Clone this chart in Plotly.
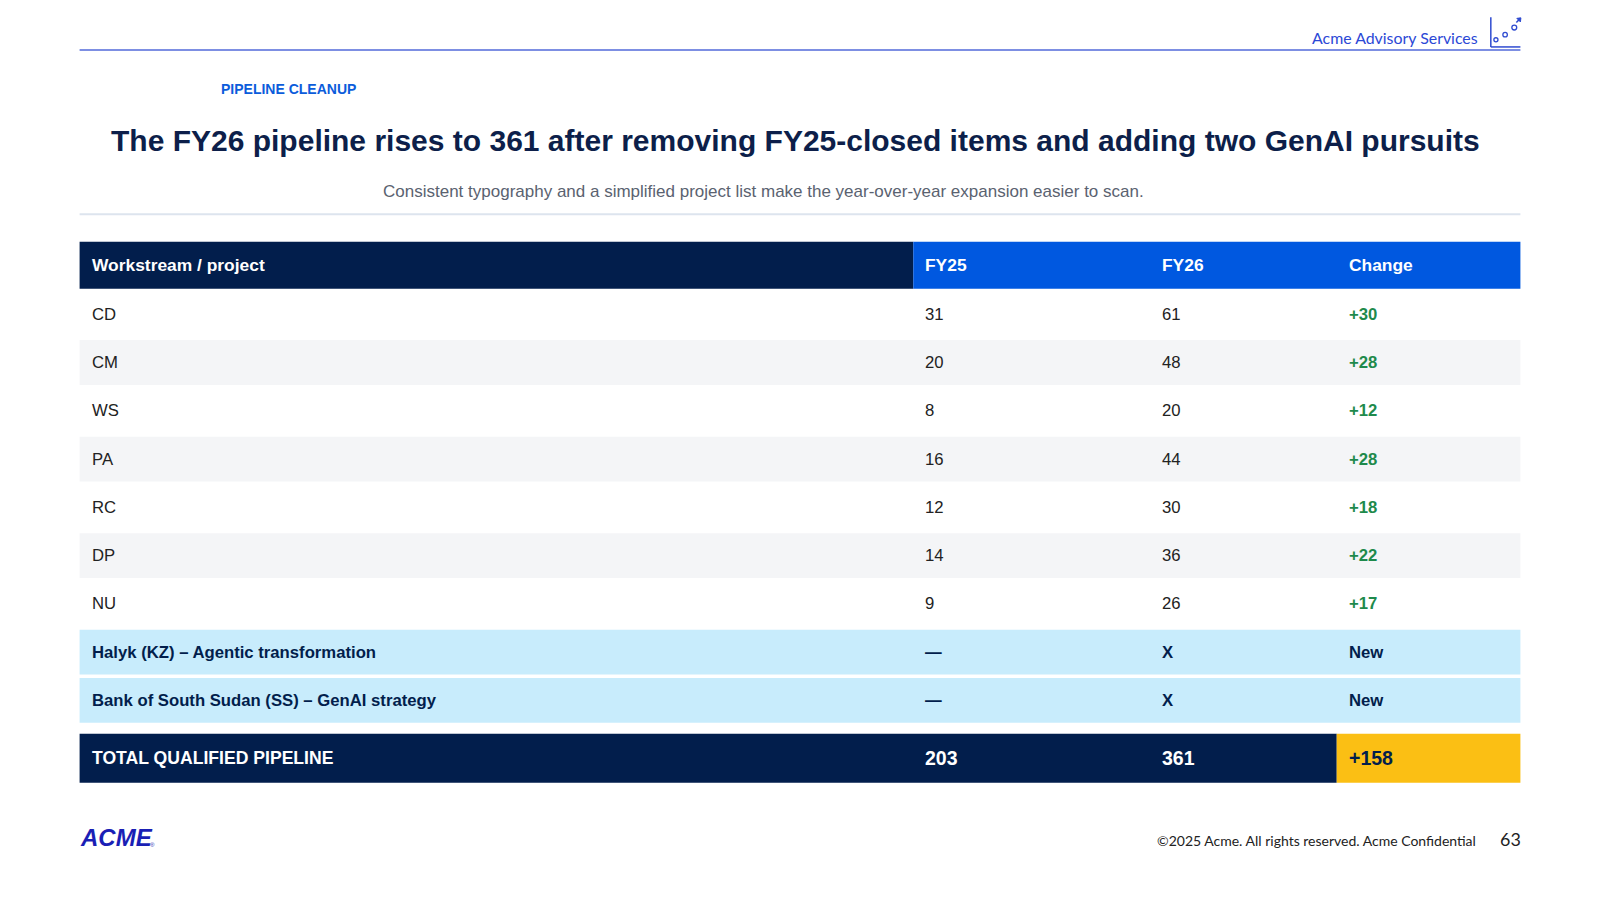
import plotly.graph_objects as go

# ---------------- data ----------------
headers = ["Workstream / project", "FY25", "FY26", "Change"]
workstreams = ["CD", "CM", "WS", "PA", "RC", "DP", "NU"]
fy25 = [31, 20, 8, 16, 12, 14, 9]
fy26 = [61, 48, 20, 44, 30, 36, 26]
new_projects = ["Halyk (KZ) – Agentic transformation",
                "Bank of South Sudan (SS) – GenAI strategy"]
new_fy25 = ["—", "—"]
new_fy26 = ["X", "X"]
new_change = ["New", "New"]
total_label = "TOTAL QUALIFIED PIPELINE"
total_fy25 = 203
total_fy26 = 361
total_change = "+158"

kicker = "PIPELINE CLEANUP"
title = "The FY26 pipeline rises to 361 after removing FY25-closed items and adding two GenAI pursuits"
subtitle = "Consistent typography and a simplified project list make the year-over-year expansion easier to scan."
brand = "Acme Advisory Services"
footer = "©2025 Acme. All rights reserved. Acme Confidential"
page = "63"

# ---------------- style / layout ----------------
W, H = 1600, 900
K = 0.98  # layout grid units -> pixels scale
SANS = "Liberation Sans, Arial, sans-serif"
CAL = "Lato, Open Sans, sans-serif"
NAVY = "#021e4c"
BLUE = "#0058e0"
GRAY_ROW = "#f4f5f7"
NEW_ROW = "#c8ecfc"
GREEN = "#1e8a4c"
YELLOW = "#fbbf14"
TEXT = "#222222"

L, R = 78, 1490
col_x = [78, 895, 1127, 1310, 1490]
pad = 10
head_top, head_bot = 237, 283
row0_center = 308
pitch = 47.3
row_h = 44
tot_top, tot_bot = 719, 767

FS_HEAD = 17.4
FS_BODY = 16.7

shapes = []
ann = []


def rect(x0, x1, y0, y1, color):
    shapes.append(dict(type="rect", xref="x", yref="y", x0=x0, x1=x1, y0=y0, y1=y1,
                       fillcolor=color, line=dict(width=0), layer="below"))


def text(x, y, s, size, color, family=SANS, bold=False, xanchor="left"):
    ann.append(dict(x=x, y=y, xref="x", yref="y", text=s, showarrow=False,
                    xanchor=xanchor, yanchor="middle",
                    font=dict(size=size, color=color, family=family,
                              weight="bold" if bold else "normal")))


# header rule and brand
shapes.append(dict(type="line", xref="x", yref="y", x0=L, x1=R, y0=49, y1=49,
                   line=dict(color="#7d8fe3", width=2)))
text(1450, 37, brand, 15.9, "#2b48d6", CAL, xanchor="right")
ic = "#2f4bd0"
shapes.append(dict(type="line", xref="x", yref="y", x0=1461, x1=1461, y0=17, y1=46,
                   line=dict(color=ic, width=1.5)))
shapes.append(dict(type="line", xref="x", yref="y", x0=1461, x1=1490, y0=46, y1=46,
                   line=dict(color=ic, width=1.5)))
for cx, cy, r in [(1466, 39, 2), (1475, 34, 2.2), (1484, 27, 2.4)]:
    shapes.append(dict(type="circle", xref="x", yref="y", x0=cx - r, x1=cx + r,
                       y0=cy - r, y1=cy + r, line=dict(color=ic, width=1.3)))
shapes.append(dict(type="line", xref="x", yref="y", x0=1486, x1=1490, y0=22, y1=18,
                   line=dict(color=ic, width=1.5)))
shapes.append(dict(type="path", xref="x", yref="y",
                   path="M 1486.5 18 L 1490.5 17.5 L 1490 21.5 Z",
                   fillcolor=ic, line=dict(color=ic, width=1)))

# titles
text(215, 87, kicker, 14, "#0b5cdb", SANS, bold=True)
text(780, 138, title, 30, "#0d1f4a", SANS, bold=True, xanchor="center")
text(748, 188, subtitle, 17, "#5a6270", SANS, xanchor="center")
shapes.append(dict(type="line", xref="x", yref="y", x0=L, x1=R, y0=210, y1=210,
                   line=dict(color="#dde4ee", width=2)))

# table header
rect(col_x[0], col_x[1], head_top, head_bot, NAVY)
rect(col_x[1], col_x[4], head_top, head_bot, BLUE)
hc = (head_top + head_bot) / 2
for j, h in enumerate(headers):
    text(col_x[j] + pad, hc, h, FS_HEAD, "white", SANS, bold=True)

# regular rows
for i, name in enumerate(workstreams):
    cy = row0_center + i * pitch
    if i % 2 == 1:
        rect(L, R, cy - row_h / 2, cy + row_h / 2, GRAY_ROW)
    text(col_x[0] + pad, cy, name, FS_BODY, TEXT)
    text(col_x[1] + pad, cy, str(fy25[i]), FS_BODY, TEXT)
    text(col_x[2] + pad, cy, str(fy26[i]), FS_BODY, TEXT)
    text(col_x[3] + pad, cy, f"+{fy26[i] - fy25[i]}", FS_BODY, GREEN, bold=True)

# new GenAI pursuits
for k, name in enumerate(new_projects):
    i = len(workstreams) + k
    cy = row0_center + i * pitch
    rect(L, R, cy - row_h / 2, cy + row_h / 2, NEW_ROW)
    text(col_x[0] + pad, cy, name, FS_BODY, NAVY, bold=True)
    text(col_x[1] + pad, cy, new_fy25[k], FS_BODY, NAVY, bold=True)
    text(col_x[2] + pad, cy, new_fy26[k], FS_BODY, NAVY, bold=True)
    text(col_x[3] + pad, cy, new_change[k], FS_BODY, NAVY, bold=True)

# total row
rect(col_x[0], col_x[3], tot_top, tot_bot, NAVY)
rect(col_x[3], col_x[4], tot_top, tot_bot, YELLOW)
tc = (tot_top + tot_bot) / 2
text(col_x[0] + pad, tc, total_label, 17.6, "white", SANS, bold=True)
text(col_x[1] + pad, tc, str(total_fy25), 19.5, "white", SANS, bold=True)
text(col_x[2] + pad, tc, str(total_fy26), 19.5, "white", SANS, bold=True)
text(col_x[3] + pad, tc, total_change, 19.5, NAVY, SANS, bold=True)

# footer
ann.append(dict(x=76.5, y=821, xref="x", yref="y", text="<i>ACME</i>", showarrow=False,
                xanchor="left", yanchor="middle",
                font=dict(size=24, color="#1a1fb5", family=SANS, weight=900)))
text(145.5, 828, "®", 6, "#1a1fb5", SANS)
text(1448, 824, footer, 14, TEXT, CAL, xanchor="right")
text(1493, 822, page, 17.9, TEXT, CAL, xanchor="right")

fig = go.Figure()
fig.add_trace(go.Scatter(x=[0, W * K], y=[0, H * K], mode="markers",
                         marker=dict(opacity=0), hoverinfo="skip", showlegend=False))
fig.update_layout(
    width=W, height=H, margin=dict(l=0, r=0, t=0, b=0),
    paper_bgcolor="white", plot_bgcolor="white",
    xaxis=dict(range=[0, W * K], visible=False, fixedrange=True),
    yaxis=dict(range=[H * K, 0], visible=False, fixedrange=True),
    shapes=shapes, annotations=ann, showlegend=False,
)
fig.write_html("out.html", config={"displayModeBar": False},
               post_script="document.body.style.margin='0';document.body.style.overflow='hidden';")
